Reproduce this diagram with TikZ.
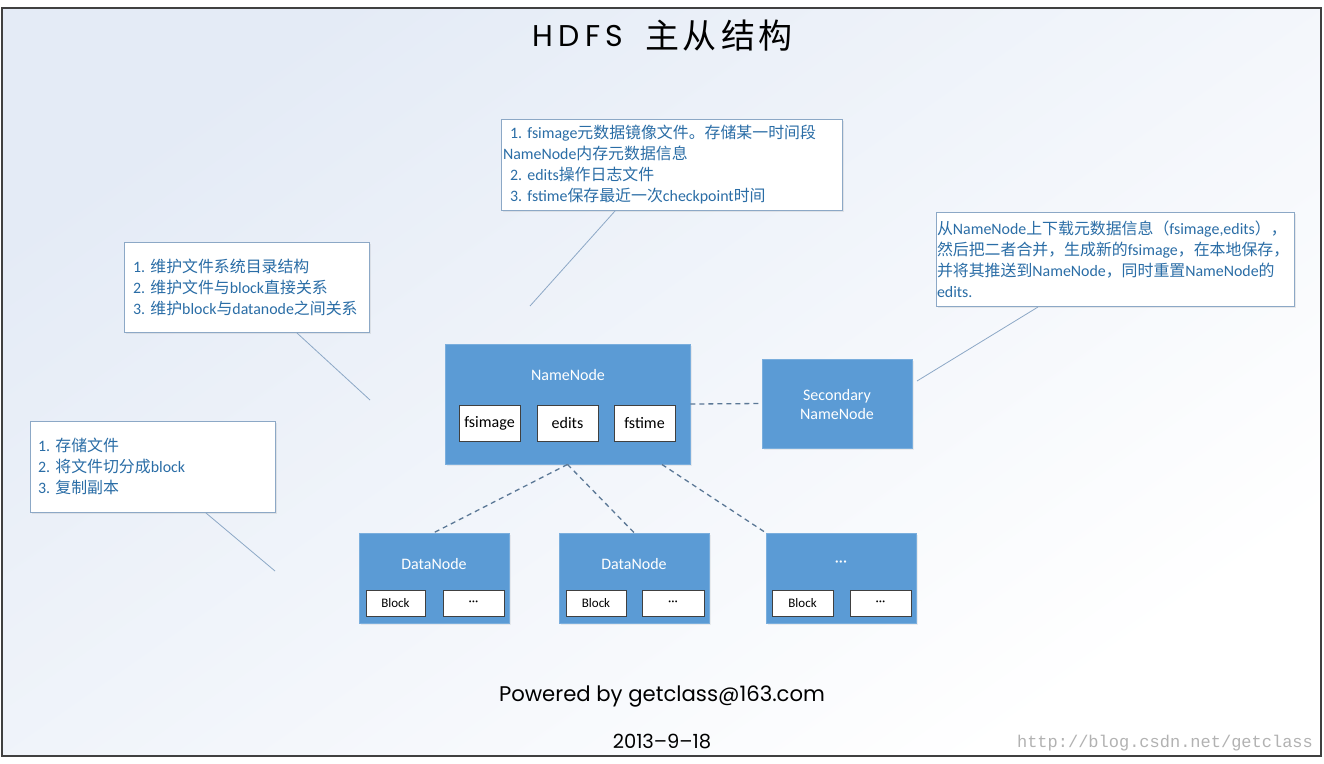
\documentclass[tikz,border=0pt]{standalone}
\usepackage{fontspec}
\setmainfont{Carlito}
\newfontfamily\cjk{Noto Sans CJK SC}
\newfontfamily\geo{Poppins}
\newfontfamily\wmfont{Liberation Mono}
\usetikzlibrary{shadows}
\definecolor{nodeblue}{HTML}{5B9BD5}
\definecolor{nodeedge}{HTML}{7AAEDD}
\definecolor{calltext}{HTML}{2A6DA6}
\definecolor{calledge}{HTML}{8CA8C6}
\definecolor{dashcol}{HTML}{5B7896}
\definecolor{bgblue}{HTML}{E4EBF6}
\newcommand{\zh}[1]{{\cjk #1}}
\frenchspacing
\begin{document}
\begin{tikzpicture}[x=1pt,y=-1pt,
  callout/.style={draw=calledge, fill=white, line width=.8pt, text=calltext,
    font=\fontsize{15.9}{21}\selectfont, align=left, inner ysep=0pt,
    drop shadow={shadow xshift=1.5pt, shadow yshift=-1.5pt, opacity=.15}},
  callline/.style={draw=calledge, line width=.8pt},
  bluebox/.style={fill=nodeblue, draw=nodeedge, line width=.8pt, inner sep=0pt,
    drop shadow={shadow xshift=1.5pt, shadow yshift=-1.5pt, opacity=.12}},
  bluelabel/.style={text=white, font=\fontsize{16}{19}\selectfont, inner sep=0pt, align=center},
  subbox/.style={fill=white, draw=black!75, line width=.8pt, inner sep=0pt, text=black,
    drop shadow={shadow xshift=1.2pt, shadow yshift=-1.2pt, opacity=.3}},
  dashline/.style={draw=dashcol, line width=1.3pt, dash pattern=on 5pt off 4pt}]
\useasboundingbox (0,0) rectangle (1324,763);
\fill[white] (0,0) rectangle (1324,763);
\shade[top color=bgblue, bottom color=white, shading angle=35] (2,8) rectangle (1321,756);
\draw[line width=1.2pt, draw=black!75] (2,8) rectangle (1321,756);

% title
\node[inner sep=0pt] (ttla) at (578,36) {\geo\fontsize{30}{30}\selectfont\addfontfeature{LetterSpace=18}HDFS};
\node[inner sep=0pt] (ttlb) at (719,36) {\cjk\fontsize{34}{34}\selectfont 主\hspace{4pt}从\hspace{4pt}结\hspace{4pt}构};

% callouts
\node[callout, text width=337pt, inner xsep=2pt, minimum height=91pt] (cbtop) at (671.5,164.5)
  {\hspace*{7pt}1. fsimage\zh{元数据镜像文件。存储某一时间段}\\
   NameNode\zh{内存元数据信息}\\
   \hspace*{7pt}2. edits\zh{操作日志文件}\\
   \hspace*{7pt}3. fstime\zh{保存最近一次}checkpoint\zh{时间}};
\node[callout, text width=356pt, inner xsep=1pt, minimum height=94pt] (cbright) at (1115,259)
  {\zh{从}NameNode\zh{上下载元数据信息（}fsimage,edits\zh{），}\\
   \zh{然后把二者合并，生成新的}fsimage\zh{，在本地保存，}\\
   \zh{并将其推送到}NameNode\zh{，同时重置}NameNode\zh{的}\\
   edits.};
\node[callout, text width=227pt, inner xsep=9pt, minimum height=90pt] (cbmid) at (246.5,287)
  {1. \zh{维护文件系统目录结构}\\
   2. \zh{维护文件与}block\zh{直接关系}\\
   3. \zh{维护}block\zh{与}datanode\zh{之间关系}};
\node[callout, text width=229pt, inner xsep=8pt, minimum height=91pt] (cbbot) at (152.5,466.5)
  {1. \zh{存储文件}\\
   2. \zh{将文件切分成}block\\
   3. \zh{复制副本}};

\coordinate (ta) at (615,211); \coordinate (tb) at (530,306);
\coordinate (ra) at (1038,307); \coordinate (rb) at (917,381);
\coordinate (ma) at (297,333); \coordinate (mb) at (370,400);
\coordinate (ba) at (206,513); \coordinate (bb) at (275,571);
\draw[callline] (ta) -- (tb);
\draw[callline] (ra) -- (rb);
\draw[callline] (ma) -- (mb);
\draw[callline] (ba) -- (bb);

% NameNode
\node[bluebox, minimum width=245pt, minimum height=120pt] (nn) at (567.5,404) {};
\node[bluelabel] (nnl) at (568,375) {NameNode};
\node[subbox, minimum width=61pt, minimum height=36pt, font=\fontsize{16}{19}\selectfont] (fsi) at (489.5,423) {fsimage};
\node[subbox, minimum width=61pt, minimum height=36pt, font=\fontsize{16}{19}\selectfont] (edi) at (567.5,423) {edits};
\node[subbox, minimum width=61pt, minimum height=36pt, font=\fontsize{16}{19}\selectfont] (fst) at (644.5,423) {fstime};

% Secondary NameNode
\node[bluebox, minimum width=150pt, minimum height=89pt] (snn) at (837,403.5) {};
\node[bluelabel, font=\fontsize{16}{19}\selectfont] (snnl) at (837,404.5) {Secondary\\NameNode};

% DataNodes
\node[bluebox, minimum width=150pt, minimum height=90pt] (dn1) at (434,578) {};
\node[bluebox, minimum width=150pt, minimum height=90pt] (dn2) at (634,578) {};
\node[bluebox, minimum width=150pt, minimum height=90pt] (dn3) at (841,578) {};
\node[bluelabel] (dn1l) at (434,564) {DataNode};
\node[bluelabel] (dn2l) at (634,564) {DataNode};
\node[bluelabel] (dn3l) at (841,564) {···};
\node[subbox, minimum width=59pt, minimum height=26pt, font=\fontsize{13}{15}\selectfont] (b1) at (395.5,603) {Block};
\node[subbox, minimum width=61pt, minimum height=26pt, font=\fontsize{13}{15}\selectfont] (d1) at (473.5,603) {···};
\node[subbox, minimum width=60pt, minimum height=26pt, font=\fontsize{13}{15}\selectfont] (b2) at (596,603) {Block};
\node[subbox, minimum width=62pt, minimum height=26pt, font=\fontsize{13}{15}\selectfont] (d2) at (673,603) {···};
\node[subbox, minimum width=61pt, minimum height=26pt, font=\fontsize{13}{15}\selectfont] (b3) at (802.5,603) {Block};
\node[subbox, minimum width=61pt, minimum height=26pt, font=\fontsize{13}{15}\selectfont] (d3) at (880.5,603) {···};

% dashed connectors
\coordinate (nnr) at (662,464.5);
\draw[dashline] (nn.east) -- (snn.west);
\draw[dashline] (nn.south) -- (dn1.north);
\draw[dashline] (nn.south) -- (dn2.north);
\draw[dashline] (nnr) -- (dn3.north west);

% footer
\node[inner sep=0pt] (pw) at (662,697) {\geo\fontsize{21.2}{22}\selectfont Powered by getclass@163.com};
\node[inner sep=0pt] (dt) at (662,741) {\geo\fontsize{19.5}{20}\selectfont 2013\textendash 9\textendash 18};
\node[inner sep=0pt, text=black!30] (wm) at (1165,743) {\wmfont\fontsize{17}{17}\selectfont http://blog.csdn.net/getclass};
\end{tikzpicture}
\end{document}
